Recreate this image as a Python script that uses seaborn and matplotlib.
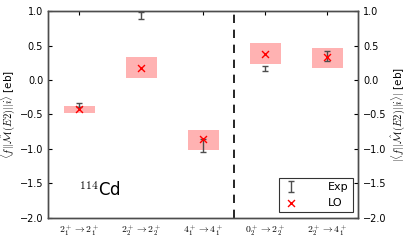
import numpy as np
import pandas as pd
import seaborn as sns
import matplotlib.pyplot as plt

# transitions and values (114Cd, E2 matrix elements)
transitions = [r'$2_1^+\to2_1^+$', r'$2_2^+\to2_2^+$', r'$4_1^+\to4_1^+$',
               r'$0_2^+\to2_2^+$', r'$2_2^+\to4_1^+$']
exp_val = [-0.36, 0.93, -0.95, 0.17, 0.35]
exp_err = [0.03, 0.05, 0.10, 0.04, 0.07]
lo_val = [-0.42, 0.18, -0.86, 0.38, 0.33]
lo_low = [-0.48, 0.03, -1.01, 0.23, 0.18]
lo_high = [-0.38, 0.33, -0.72, 0.53, 0.47]

sns.set_style('white')
plt.rcParams['mathtext.fontset'] = 'cm'
plt.rcParams['font.family'] = ['DejaVu Sans']
for k in ('text.color', 'axes.labelcolor', 'xtick.color', 'ytick.color'):
    plt.rcParams[k] = 'black'

df = pd.DataFrame({'pos': np.arange(1, len(transitions) + 1),
                   'exp': exp_val, 'err': exp_err,
                   'lo': lo_val, 'low': lo_low, 'high': lo_high})

fig = plt.figure(figsize=(4.07, 2.4), dpi=100)
ax = fig.add_axes([0.118, 0.092, 0.762, 0.862])

# LO uncertainty bands
ax.bar(df['pos'], df['high'] - df['low'], bottom=df['low'], width=0.5,
       color='red', alpha=0.3, linewidth=0, zorder=1)

# experiment
ax.errorbar(df['pos'], df['exp'], yerr=df['err'], fmt='none', ecolor='0.3',
            elinewidth=1, capsize=2, capthick=1, zorder=3, label='Exp')

# LO
sns.scatterplot(data=df, x='pos', y='lo', marker='x', color='red', s=25,
                linewidth=1, zorder=4, label='LO', ax=ax)

ax.axvline(3.5, color='black', linestyle='--', linewidth=1.2, dashes=(5, 4))

ax.text(1.0, -1.6, r'$^{114}$Cd', fontsize=12, va='center', ha='left')

ax.set_xlim(0.5, 5.5)
ax.set_ylim(-2.0, 1.0)
ax.set_xticks(df['pos'])
ax.set_xticklabels(transitions, fontsize=7)
ax.set_yticks(np.arange(-2.0, 1.01, 0.5))
ax.tick_params(axis='y', labelsize=7, direction='in', length=3, right=False)
ax.tick_params(axis='x', direction='in', length=3, top=True, pad=4)
ax.set_xlabel('')
ax.set_ylabel(r'$\langle f||\hat{\mathcal{M}}(E2)||i\rangle$ [eb]', fontsize=7.5, labelpad=2)

ax2 = ax.twinx()
ax2.set_ylim(-2.0, 1.0)
ax2.set_yticks(np.arange(-2.0, 1.01, 0.5))
ax2.tick_params(axis='y', labelsize=7, direction='in', length=3)
ax2.set_ylabel(r'$|\langle f||\hat{\mathcal{M}}(E2)||i\rangle|$ [eb]', fontsize=7.5, labelpad=2)

for a in (ax, ax2):
    for sp in a.spines.values():
        sp.set_color('0.3')
        sp.set_linewidth(1)

handles, labels = ax.get_legend_handles_labels()
order = [labels.index('Exp'), labels.index('LO')]
leg = ax.legend([handles[i] for i in order], [labels[i] for i in order],
                loc='lower right', fontsize=8, frameon=True, fancybox=False,
                edgecolor='black', borderaxespad=0.5, handletextpad=2.5,
                handlelength=1.5)
leg.get_frame().set_linewidth(0.8)

fig.savefig('out.png', dpi=100)
